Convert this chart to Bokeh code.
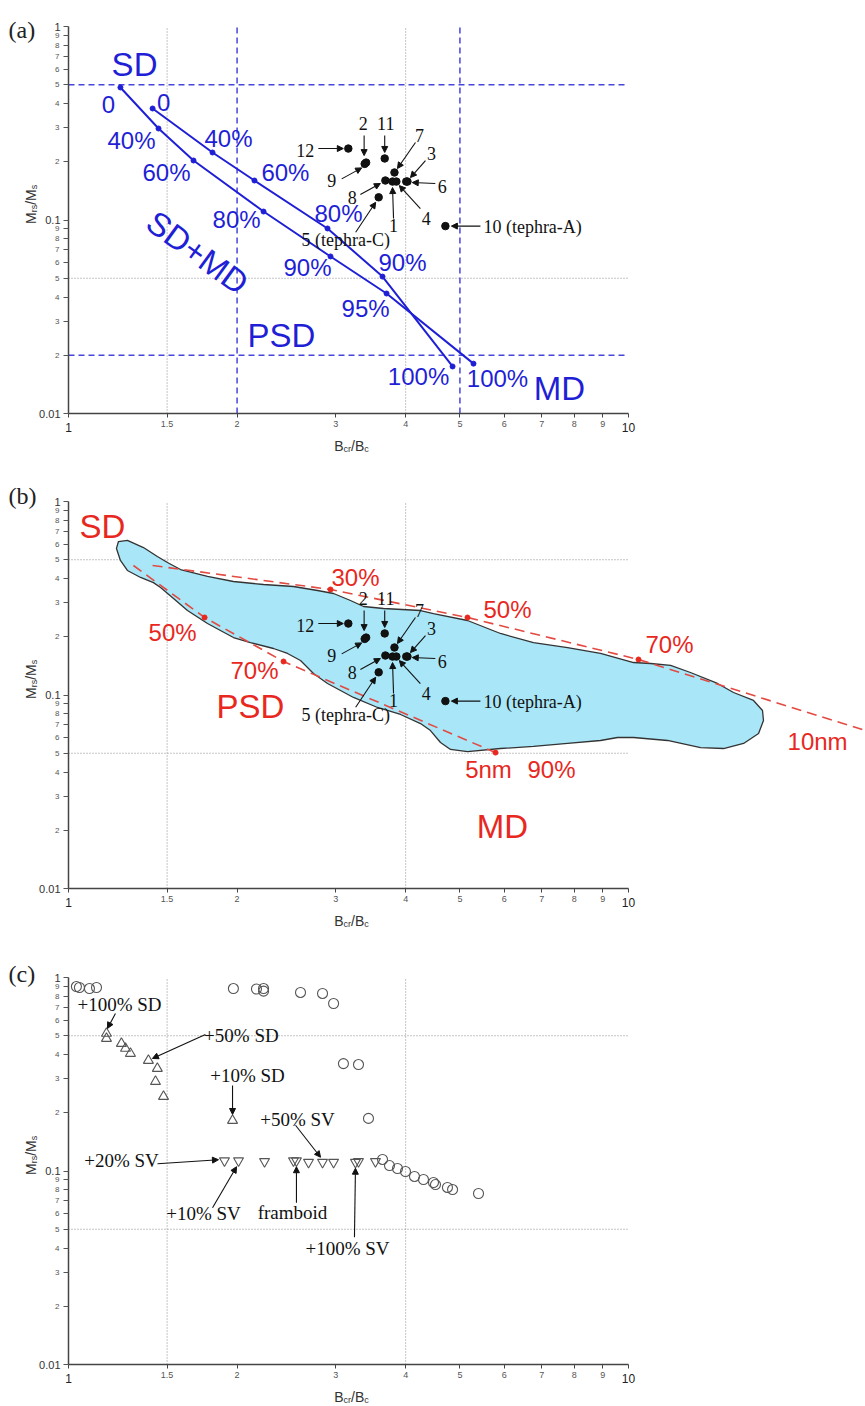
from math import pi
from bokeh.plotting import figure
from bokeh.layouts import column
from bokeh.models import FixedTicker, Label, Arrow, NormalHead, Range1d
from bokeh.embed import file_html
from bokeh.resources import INLINE

# ---------------- axes / ticks ----------------
x_ticks = [1, 1.5, 2, 3, 4, 5, 6, 7, 8, 9, 10]
x_tick_labels = ["", "1.5", "2", "3", "4", "5", "6", "7", "8", "9", ""]
x_end_ticks = [1, 10]
x_end_labels = ["1", "10"]
y_ticks = [0.01, 0.02, 0.03, 0.04, 0.05, 0.06, 0.07, 0.08, 0.09,
           0.1, 0.2, 0.3, 0.4, 0.5, 0.6, 0.7, 0.8, 0.9, 1]
y_tick_labels = ["", "2", "3", "4", "5", "6", "7", "8", "9",
                 "", "2", "3", "4", "5", "6", "7", "8", "9", ""]
y_major = [0.01, 0.1, 1]
y_major_labels = ["0.01", "0.1", "1"]

# ---------------- samples (panels a, b) ----------------
sample_id = ["1", "2", "3", "4", "5", "6", "7", "8", "9", "10", "11", "12"]
sample_bcr = [3.79, 3.40, 4.03, 3.85, 3.58, 4.01, 3.82, 3.68, 3.38, 4.71, 3.67, 3.16]
sample_mrs = [0.158, 0.198, 0.158, 0.158, 0.131, 0.158, 0.176, 0.160, 0.195, 0.093, 0.208, 0.234]
sample_text = ["1", "2", "3", "4", "5 (tephra-C)", "6", "7", "8", "9", "10 (tephra-A)", "11", "12"]

# ---------------- panel (a): SD+MD mixing curves ----------------
mix1_bcr = [1.238, 1.448, 1.672, 2.230, 2.937, 3.698, 5.287]
mix1_mrs = [0.484, 0.297, 0.203, 0.1106, 0.0648, 0.0417, 0.0181]
mix1_pct = ["0", "40%", "60%", "80%", "90%", "95%", "100%"]
mix2_bcr = [1.413, 1.808, 2.148, 2.901, 3.637, 4.851]
mix2_mrs = [0.377, 0.2233, 0.160, 0.0904, 0.0510, 0.0175]
mix2_pct = ["0", "40%", "60%", "80%", "90%", "100%"]

# ---------------- panel (b): SP+SD curves and sample envelope ----------------
sp10_bcr = [1.413, 2.937, 5.158, 10.42, 26.5]
sp10_mrs = [0.467, 0.351, 0.2515, 0.1526, 0.0655]
sp10_marked = [1, 2, 3]
sp10_pct = ["30%", "50%", "70%"]
sp5_bcr = [1.306, 1.750, 2.421, 5.788]
sp5_mrs = [0.467, 0.2515, 0.149, 0.0504]
sp5_marked = [1, 2, 3]
sp5_pct = ["50%", "70%", "90%"]

env_bcr = [1.228, 1.274, 1.361, 1.441, 1.502, 1.585, 1.771, 1.970, 2.230, 2.522,
           2.784, 2.974, 3.188, 3.364, 3.652, 4.252, 4.485, 5.158, 5.907, 6.766,
           7.783, 8.913, 10.21, 10.95, 11.89, 12.90, 14.42, 15.40, 16.72, 17.35,
           17.42, 17.07, 16.05, 14.78, 13.45, 11.74, 10.21, 9.559, 8.913, 7.783,
           6.766, 5.907, 5.158, 4.810, 4.616, 4.430, 4.252, 3.917, 3.563, 3.228,
           2.901, 2.738, 2.596, 2.461, 2.323, 2.113, 1.970, 1.771, 1.631, 1.540,
           1.460, 1.418, 1.345, 1.274, 1.238, 1.218]
env_mrs = [0.621, 0.629, 0.578, 0.520, 0.484, 0.445, 0.410, 0.386, 0.3725, 0.3637,
           0.3468, 0.3346, 0.3078, 0.2867, 0.2799, 0.2733, 0.2637, 0.2427, 0.2079, 0.1867,
           0.1759, 0.1639, 0.1472, 0.1455, 0.1421, 0.1307, 0.1147, 0.1030, 0.0937, 0.0832,
           0.0738, 0.0632, 0.0562, 0.0529, 0.0535, 0.0582, 0.0603, 0.0603, 0.0582, 0.0562,
           0.0542, 0.0529, 0.0510, 0.0523, 0.0568, 0.0655, 0.0712, 0.0793, 0.0862, 0.0971,
           0.1147, 0.1292, 0.1508, 0.1639, 0.1739, 0.1867, 0.1982, 0.2342, 0.2733, 0.3152,
           0.3594, 0.381, 0.405, 0.440, 0.496, 0.572]

# ---------------- panel (c): micromagnetic models ----------------
circ_bcr = [1.033, 1.046, 1.090, 1.122, 1.970, 2.166, 2.230, 2.230, 2.596, 2.842,
            2.974, 3.097, 3.295, 3.433, 3.637, 3.743, 3.868, 3.997, 4.148, 4.304,
            4.485, 4.522, 4.750, 4.851, 5.397]
circ_mrs = [0.898, 0.888, 0.877, 0.888, 0.877, 0.872, 0.877, 0.850, 0.837, 0.827,
            0.734, 0.359, 0.355, 0.187, 0.1147, 0.1067, 0.1030, 0.0994, 0.0937, 0.0904,
            0.0872, 0.0851, 0.0822, 0.0802, 0.0765]
up_bcr = [1.169, 1.169, 1.243, 1.264, 1.290, 1.389, 1.441, 1.430, 1.478, 1.963]
up_mrs = [0.514, 0.484, 0.456, 0.430, 0.405, 0.3725, 0.3386, 0.290, 0.2427, 0.1824]
down_bcr = [1.899, 2.012, 2.239, 2.522, 2.553, 2.683, 2.842, 2.974, 3.254, 3.295, 3.533]
down_mrs = [0.113, 0.113, 0.112, 0.113, 0.113, 0.111, 0.111, 0.111, 0.111, 0.112, 0.112]
c_text = ["+100% SD", "+50% SD", "+10% SD", "+20% SV", "+10% SV", "framboid", "+50% SV", "+100% SV"]
c_target = [("up", 0), ("up", 5), ("up", 9), ("down", 0), ("down", 1), ("down", 4), ("down", 6), ("down", 8)]

# ---------------- layout constants ----------------
W = 865
PX_X = 560.0    # pixels per decade on x
PX_Y = 193.5    # pixels per decade on y
LEFT = 68       # pixel position of x = 1

BLUE = "#1f1fd6"
BLUE_DASH = "#4646dc"
RED = "#e8281e"
RED_DASH = "#e24a42"
GRAYDOT = "#8a8a8a"
SANS = "Liberation Sans"
SERIF = "Liberation Serif"


def shift(x, y, dx, dy):
    """Move a data point by screen pixels (dy positive = down)."""
    return x * 10 ** (dx / PX_X), y * 10 ** (-dy / PX_Y)


def label(p, x, y, text, size, color, font, dx=0, dy=0, align="center",
          baseline="middle", angle=0.0, style="normal"):
    p.add_layout(Label(x=x, y=y, x_offset=dx, y_offset=-dy, text=text,
                       text_font_size=f"{size}px", text_color=color, text_font=font,
                       text_align=align, text_baseline=baseline, angle=angle,
                       text_font_style=style))


def arrow(p, x, y, tail, head):
    x0, y0 = shift(x, y, *tail)
    x1, y1 = shift(x, y, *head)
    p.add_layout(Arrow(x_start=x0, y_start=y0, x_end=x1, y_end=y1,
                       line_color="#111111", line_width=1.1,
                       end=NormalHead(size=6, fill_color="#111111", line_color="#111111")))


def make_fig(height, top, tag, tag_dy):
    # the frame fills the whole canvas; axes sit at x = 1 and y = 0.01
    x_lo = 10 ** (-LEFT / PX_X)
    x_hi = 10 ** ((W - LEFT) / PX_X)
    y_hi = 10 ** (top / PX_Y)
    y_lo = 10 ** (-(height - top) / PX_Y)
    p = figure(frame_width=W, frame_height=height, x_axis_type="log", y_axis_type="log",
               x_range=Range1d(x_lo, x_hi), y_range=Range1d(y_lo, y_hi),
               min_border=0, output_backend="svg", toolbar_location=None, tools="")
    p.grid.visible = False
    p.outline_line_color = None
    p.background_fill_color = "white"
    p.border_fill_color = "white"

    xa = p.xaxis[0]
    xa.fixed_location = 0.01
    xa.ticker = FixedTicker(ticks=x_ticks)
    xa.major_label_overrides = {t: l for t, l in zip(x_ticks, x_tick_labels)}
    xa.bounds = (1, 10)
    xa.axis_line_color = "#444444"
    xa.axis_line_width = 1.5
    xa.major_tick_out = 4
    xa.major_tick_in = 0
    xa.major_tick_line_color = "#444444"
    xa.minor_tick_line_color = None
    xa.major_label_text_font = SANS
    xa.major_label_text_font_size = "9px"
    xa.major_label_text_color = "#555555"
    xa.major_label_standoff = 3

    ya = p.yaxis[0]
    ya.fixed_location = 1
    ya.ticker = FixedTicker(ticks=y_ticks)
    ya.major_label_overrides = {t: l for t, l in zip(y_ticks, y_tick_labels)}
    ya.bounds = (0.01, 1)
    ya.axis_line_color = "#444444"
    ya.axis_line_width = 1.5
    ya.major_tick_out = 5
    ya.major_tick_in = 0
    ya.major_tick_line_color = "#555555"
    ya.minor_tick_line_color = None
    ya.major_label_text_font = SANS
    ya.major_label_text_font_size = "8px"
    ya.major_label_text_color = "#555555"
    ya.major_label_standoff = 4

    for v, t in zip(y_major, y_major_labels):
        label(p, 1, v, t, 11, "#333333", SANS, dx=-8, align="right")
    for v, t in zip(x_end_ticks, x_end_labels):
        label(p, v, 0.01, t, 12, "#222222", SANS, dy=9, baseline="top")

    # axis titles built from pieces (subscripts)
    cum = 0.0
    for text, size, sub, adv in [("B", 14, False, 9.34), ("cr", 9, True, 7.5),
                                 ("/B", 14, False, 13.23), ("c", 9, True, 4.5)]:
        label(p, 1, 0.01, text, size, "#333333", SANS, dx=265.7 + cum,
              dy=32 + (3 if sub else 0), align="left", baseline="alphabetic")
        cum += adv
    cum = 0.0
    for text, size, sub, adv in [("M", 14, False, 11.66), ("rs", 9, True, 7.5),
                                 ("/M", 14, False, 15.55), ("s", 9, True, 4.5)]:
        label(p, 1, 0.1, text, size, "#333333", SANS, dx=-38 + (3 if sub else 0),
              dy=4 - cum, align="left", baseline="alphabetic", angle=pi / 2)
        cum += adv

    label(p, 1, 1, tag, 24, "#222222", SERIF, dx=-60, dy=tag_dy, align="left",
          baseline="alphabetic")
    return p


def dotted_grid(p, hlines):
    for xv in [1.5, 4]:
        p.segment(x0=xv, y0=0.01, x1=xv, y1=1, line_color=GRAYDOT, line_width=1,
                  line_dash="1 2")
    for yv in hlines:
        p.segment(x0=1, y0=yv, x1=10, y1=yv, line_color=GRAYDOT, line_width=1,
                  line_dash="1 2")


# per-sample annotation: label offset, arrow tail, arrow head (screen px)
sample_ann = {
    "1": ((1, 44), (1, 37), (0, 6)),
    "2": ((-3, -39), (-2, -27), (-2, -7)),
    "3": ((24, -28), (18, -21), (3, -4)),
    "4": ((30, 37), (24, 27), (3, 4)),
    "5": ((-33, 43), (-23, 35), (-3, 5)),
    "6": ((36, 5), (29, 2), (6, 1)),
    "7": ((25, -37), (21, -30), (3, -4)),
    "8": ((-33, 17), (-25, 14), (-5, 3)),
    "9": ((-33, 17), (-23, 15), (-3, 4)),
    "10": ((38, 1), (35, 0), (6, 0)),
    "11": ((1, -35), (0, -23), (0, -6)),
    "12": ((-43, 2), (-30, 0), (-5, 0)),
}


def draw_samples(p):
    for sid, x, y, t in zip(sample_id, sample_bcr, sample_mrs, sample_text):
        (ldx, ldy), tail, head = sample_ann[sid]
        arrow(p, x, y, tail, head)
        align = "left" if sid == "10" else "center"
        label(p, x, y, t, 18, "#111111", SERIF, dx=ldx, dy=ldy, align=align)
    p.scatter(sample_bcr, sample_mrs, size=7.5, color="#111111")


# ======================= panel (a) =======================
pa = make_fig(475, 26, "(a)", 3)
dotted_grid(pa, [0.05])
for yv in [0.5, 0.02]:
    pa.segment(x0=1, y0=yv, x1=10, y1=yv, line_color=BLUE_DASH, line_width=1.5,
               line_dash="6 4")
for xv in [2, 5]:
    pa.segment(x0=xv, y0=0.01, x1=xv, y1=1, line_color=BLUE_DASH, line_width=1.5,
               line_dash="6 4")

pa.line(mix1_bcr, mix1_mrs, line_color=BLUE, line_width=2)
pa.line(mix2_bcr, mix2_mrs, line_color=BLUE, line_width=2)
pa.scatter(mix1_bcr, mix1_mrs, size=5, color=BLUE)
pa.scatter(mix2_bcr, mix2_mrs, size=5, color=BLUE)

mix1_off = [(-12, 17), (-27, 12), (-27, 12), (-27, 8), (-23, 11), (-21, 15), (24, 15)]
mix2_off = [(11, -6), (16, -14), (31, -8), (11, -15), (20, -14), (-34, 10)]
for x, y, t, (dx, dy) in zip(mix1_bcr, mix1_mrs, mix1_pct, mix1_off):
    label(pa, x, y, t, 24, BLUE, SANS, dx=dx, dy=dy)
for x, y, t, (dx, dy) in zip(mix2_bcr, mix2_mrs, mix2_pct, mix2_off):
    label(pa, x, y, t, 24, BLUE, SANS, dx=dx, dy=dy)

label(pa, 1.312, 0.636, "SD", 33, BLUE, SANS)
label(pa, 1.700, 0.0679, "SD+MD", 33, BLUE, SANS, angle=-0.63)
label(pa, 2.401, 0.0253, "PSD", 33, BLUE, SANS)
label(pa, 7.53, 0.01346, "MD", 33, BLUE, SANS)
draw_samples(pa)

# ======================= panel (b) =======================
pb = make_fig(475, 26, "(b)", -6)
dotted_grid(pb, [0.5, 0.05])
pb.patch(env_bcr, env_mrs, fill_color="#a9e7f8", line_color="#333333", line_width=1.3)
pb.line(sp10_bcr, sp10_mrs, line_color=RED_DASH, line_width=1.6, line_dash="10 6")
pb.line(sp5_bcr, sp5_mrs, line_color=RED_DASH, line_width=1.6, line_dash="10 6")
pb.scatter([sp10_bcr[i] for i in sp10_marked], [sp10_mrs[i] for i in sp10_marked],
           size=5, color=RED)
pb.scatter([sp5_bcr[i] for i in sp5_marked], [sp5_mrs[i] for i in sp5_marked],
           size=5, color=RED)
sp10_off = [(25, -12), (40, -8), (31, -15)]
sp5_off = [(-32, 15), (-29, 9), (56, 17)]
for i, t, (dx, dy) in zip(sp10_marked, sp10_pct, sp10_off):
    label(pb, sp10_bcr[i], sp10_mrs[i], t, 24, RED, SANS, dx=dx, dy=dy)
for i, t, (dx, dy) in zip(sp5_marked, sp5_pct, sp5_off):
    label(pb, sp5_bcr[i], sp5_mrs[i], t, 24, RED, SANS, dx=dx, dy=dy)
label(pb, sp5_bcr[3], sp5_mrs[3], "5nm", 24, RED, SANS, dx=-7, dy=17)
label(pb, 21.76, 0.0575, "10nm", 24, RED, SANS)
label(pb, 1.150, 0.743, "SD", 33, RED, SANS)
label(pb, 2.113, 0.0872, "PSD", 33, RED, SANS)
label(pb, 5.957, 0.0209, "MD", 33, RED, SANS)
draw_samples(pb)

# ======================= panel (c) =======================
pc = make_fig(456, 27, "(c)", -4)
dotted_grid(pc, [0.5, 0.05])
mk = dict(size=10, fill_color=None, line_color="#555555", line_width=1.1)
pc.scatter(circ_bcr, circ_mrs, marker="circle", **mk)
pc.scatter(up_bcr, up_mrs, marker="triangle", **mk)
pc.scatter(down_bcr, down_mrs, marker="inverted_triangle", **mk)

c_label_off = [(13, -29), (93, -25), (15, -45), (-103, 0), (-35, 53), (-4, 52), (-25, -43), (-8, 86)]
c_tail = [(9, -20), (57, -26), (0, -35), (-67, 3), (-26, 47), (0, 42), (-27, -37), (-1, 75)]
c_head = [(1, -5), (4, -2), (0, -6), (-6, -1), (-2, 6), (0, 6), (-2, -5), (0, 6)]
for t, (kind, idx), lo, tl, hd in zip(c_text, c_target, c_label_off, c_tail, c_head):
    xs, ys = (up_bcr, up_mrs) if kind == "up" else (down_bcr, down_mrs)
    x, y = xs[idx], ys[idx]
    arrow(pc, x, y, tl, hd)
    label(pc, x, y, t, 19, "#111111", SERIF, dx=lo[0], dy=lo[1])

layout = column(pa, pb, pc, spacing=0)
open("out.html", "w").write(file_html(layout, INLINE))
